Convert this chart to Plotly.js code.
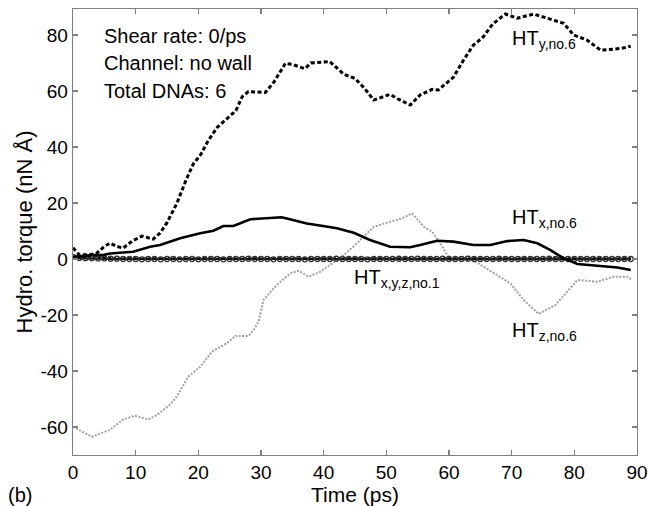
<!DOCTYPE html>
<html>
<head>
<meta charset="utf-8">
<script src="https://cdn.plot.ly/plotly-3.0.1.min.js"></script>
<style>html,body{margin:0;padding:0;background:#fff;}#chart{width:648px;height:506px;}</style>
</head>
<body>
<div id="chart"></div>
<script>
// HT_y,no.6 (thick black dotted)
const tY = [0, 1, 2.5, 3.8, 5, 5.9, 7, 8, 9.5, 11, 12.8, 13.9, 15, 16.6, 18, 19.2, 20.3, 21.5, 23, 24.5, 26, 27, 28, 30.7, 32, 33.9, 35, 37, 38, 41, 43.2, 45, 46.5, 48, 49.5, 50.6, 52, 53.8, 55.4, 57.3, 58.3, 60.7, 62.3, 63.9, 65.5, 67, 69, 70.9, 73.5, 76.7, 78.3, 79.9, 82, 84.2, 87.4, 89];
const htY6 = [4, 1.5, 1.5, 2.1, 4.5, 5.7, 4.5, 3.9, 6.5, 8.2, 7.1, 9.3, 13, 20, 28, 34, 37, 42, 47, 50, 53, 58, 59.8, 59.5, 63, 69.9, 69.5, 68, 70, 70.5, 66, 64.5, 61, 56.8, 58, 58.8, 57, 55, 58.6, 60.6, 60.4, 64.9, 71, 76.4, 79.4, 84, 87.5, 86, 87.5, 85.4, 84.2, 80, 78.2, 74.6, 75.2, 76];

// HT_x,no.6 (solid black)
const tX = [0, 3.2, 4.8, 5.9, 9.6, 12.3, 13.9, 17.1, 20.3, 22.4, 24, 25.6, 28.3, 29.9, 33.3, 35.1, 37.3, 39.9, 42.1, 44.8, 47.4, 50.6, 53.8, 55.4, 58.1, 60.7, 63.9, 66.6, 69.3, 71.9, 74.1, 76.2, 78.3, 80.5, 83.7, 86.9, 89];
const htX6 = [0.8, 1.4, 1.4, 2, 2.6, 4.4, 5, 7.4, 9.2, 10.1, 11.8, 11.8, 14.2, 14.5, 14.9, 13.9, 12.7, 11.8, 11, 9.4, 6.8, 4.4, 4.2, 5, 6.5, 6.2, 5, 5, 6.4, 6.8, 5.6, 3.2, 0.2, -1.8, -2.5, -3, -3.9];

// HT_z,no.6 (grey dotted)
const tZ = [0, 3, 5.9, 8, 9.9, 12, 13.4, 15.5, 16.6, 18.4, 20.3, 22.2, 24.6, 25.9, 28, 28.8, 29.6, 30.4, 32.5, 34.7, 36, 37.6, 39.5, 41.3, 43.2, 45.3, 48, 50.6, 52.5, 54.1, 56, 57.3, 58.6, 60.2, 62.9, 65.5, 69.8, 71.9, 74.3, 77, 78.9, 80.5, 83.7, 86.3, 88.5, 89];
const htZ6 = [-59.9, -63.5, -61, -57.3, -56, -57.3, -55.7, -52, -49, -42, -38.5, -33, -30, -27.5, -27.5, -25.4, -22.4, -14.6, -9.3, -5.1, -4.2, -6.3, -4.5, -1.5, 1.4, 5.6, 11.5, 13.3, 14.5, 16.3, 11.5, 9.8, 5.6, -0.4, 0.8, -2.7, -8.7, -14.6, -19.6, -16.4, -11.7, -7.5, -8.1, -6.3, -6.3, -7.2];

// HT_x,y,z,no.1 (near zero)
const t1 = [0,1,2,3,4,5,6,7,8,9,10,11,12,13,14,15,16,17,18,19,20,21,22,23,24,25,26,27,28,29,30,31,32,33,34,35,36,37,38,39,40,41,42,43,44,45,46,47,48,49,50,51,52,53,54,55,56,57,58,59,60,61,62,63,64,65,66,67,68,69,70,71,72,73,74,75,76,77,78,79,80,81,82,83,84,85,86,87,88,89];
const htX1 = [0.8,0.4,0.3,0.3,0.2,0.2,0.1,0.1,0,0,0,-0.1,0,0,-0.1,0,0,-0.1,0,0,-0.1,0,0,0,-0.1,0,0,0,0.1,0,0,0,-0.1,0,0,0,0,-0.1,0,0,0,0,0.1,0,0,0,0,-0.1,0,0,0,0,0.1,0,0,0.1,0,0,0,0.1,0,0,0,0.1,0,0,0,0,0.1,0,0,0,0,0,0,0,0.1,0,0,0,0,0,0,0,0,0,0,0,0,0];
const htY1 = [0.5,0.6,0.5,0.5,0.4,0.3,0.3,0.2,0.2,0.2,0.2,0.2,0.2,0.2,0.1,0.1,0.2,0.2,0.2,0.2,0.1,0.1,0.1,0.1,0.1,0.2,0.2,0.2,0.2,0.2,0.2,0.2,0.1,0.1,0.1,0.2,0.2,0.2,0.2,0.2,0.2,0.2,0.2,0.2,0.2,0.2,0.2,0.2,0.2,0.2,0.2,0.2,0.2,0.3,0.3,0.2,0.2,0.2,0.2,0.2,0.2,0.2,0.2,0.2,0.2,0.2,0.2,0.2,0.2,0.2,0.2,0.2,0.2,0.2,0.2,0.2,0.2,0.2,0.2,0.2,0.2,0.2,0.2,0.2,0.2,0.2,0.2,0.2,0.2,0.2];
const htZ1 = [0.3,0.3,0.2,0.2,0.1,0.1,0,0,0,0,-0.1,-0.1,-0.1,-0.1,-0.1,-0.1,-0.1,-0.1,-0.1,-0.1,-0.1,-0.1,-0.1,-0.1,-0.1,-0.1,-0.1,-0.1,-0.1,-0.1,-0.1,-0.1,-0.1,-0.1,-0.1,-0.1,-0.1,-0.1,-0.1,-0.1,-0.1,-0.1,-0.1,-0.1,-0.1,-0.1,-0.1,-0.1,-0.1,-0.1,-0.1,-0.1,-0.1,-0.1,-0.1,-0.1,-0.1,-0.1,-0.1,-0.1,-0.1,-0.1,-0.1,-0.1,-0.1,-0.1,-0.1,-0.1,-0.1,-0.1,-0.1,-0.1,-0.1,-0.1,-0.1,-0.1,-0.1,-0.1,-0.1,-0.1,-0.1,-0.1,-0.1,-0.1,-0.1,-0.1,-0.1,-0.1,-0.1,-0.1];

const xTicks = [0, 10, 20, 30, 40, 50, 60, 70, 80, 90];
const yTicks = [-60, -40, -20, 0, 20, 40, 60, 80];

const FONT = 'Liberation Sans, Arial, sans-serif';

const traces = [
  {x: tZ, y: htZ6, mode: 'lines', line: {color: '#a0a0a0', width: 2, dash: '2px,1.5px'}},
  {x: t1, y: htZ1, mode: 'lines', line: {color: '#000', width: 2}},
  {x: t1, y: htY1, mode: 'lines', line: {color: '#000', width: 2.5, dash: '3px,2px'}},
  {x: t1, y: htX1, mode: 'lines+markers', line: {color: '#111', width: 1.5},
   marker: {symbol: 'circle-open', size: 5, color: '#333', line: {width: 1.3, color: '#333'}}},
  {x: tX, y: htX6, mode: 'lines', line: {color: '#000', width: 2.6}},
  {x: tY, y: htY6, mode: 'lines', line: {color: '#000', width: 3, dash: '4px,2.5px'}}
];

const axisCommon = {
  showline: true, linecolor: '#808080', linewidth: 1.3, mirror: 'ticks',
  ticks: 'inside', ticklen: 5, tickcolor: '#808080', tickwidth: 1.3,
  showgrid: false, zeroline: false,
  tickfont: {family: FONT, size: 19, color: '#000'}
};

const layout = {
  width: 648, height: 506,
  margin: {l: 73, r: 11, t: 9, b: 51},
  paper_bgcolor: '#fff', plot_bgcolor: '#fff',
  showlegend: false,
  xaxis: Object.assign({}, axisCommon, {
    range: [0, 90], tickvals: xTicks, ticktext: xTicks.map(String),
    title: {text: 'Time (ps)', font: {family: FONT, size: 21, color: '#000'}, standoff: 4}
  }),
  yaxis: Object.assign({}, axisCommon, {
    range: [-70, 89.3], tickvals: yTicks, ticktext: yTicks.map(String),
    title: {text: 'Hydro. torque (nN Å)', font: {family: FONT, size: 22, color: '#000'}, standoff: 1}
  }),
  annotations: [
    {xref: 'paper', yref: 'paper', x: 0.052, y: 0.94, xanchor: 'left', yanchor: 'middle', showarrow: false,
     text: 'Shear rate: 0/ps', font: {family: FONT, size: 20, color: '#000'}},
    {xref: 'paper', yref: 'paper', x: 0.052, y: 0.878, xanchor: 'left', yanchor: 'middle', showarrow: false,
     text: 'Channel: no wall', font: {family: FONT, size: 20, color: '#000'}},
    {xref: 'paper', yref: 'paper', x: 0.052, y: 0.816, xanchor: 'left', yanchor: 'middle', showarrow: false,
     text: 'Total DNAs: 6', font: {family: FONT, size: 20, color: '#000'}},
    {xref: 'x', yref: 'y', x: 69.7, y: 78.5, xanchor: 'left', yanchor: 'middle', showarrow: false,
     text: 'HT<sub>y,no.6</sub>', font: {family: FONT, size: 20, color: '#000'}},
    {xref: 'x', yref: 'y', x: 69.7, y: 14.5, xanchor: 'left', yanchor: 'middle', showarrow: false,
     text: 'HT<sub>x,no.6</sub>', font: {family: FONT, size: 20, color: '#000'}},
    {xref: 'x', yref: 'y', x: 44.6, y: -7, xanchor: 'left', yanchor: 'middle', showarrow: false,
     text: 'HT<sub>x,y,z,no.1</sub>', font: {family: FONT, size: 20, color: '#000'}},
    {xref: 'x', yref: 'y', x: 69.7, y: -25.8, xanchor: 'left', yanchor: 'middle', showarrow: false,
     text: 'HT<sub>z,no.6</sub>', font: {family: FONT, size: 20, color: '#000'}},
    {xref: 'paper', yref: 'paper', x: -0.118, y: -0.09, xanchor: 'left', yanchor: 'middle', showarrow: false,
     text: '(b)', font: {family: FONT, size: 20, color: '#000'}}
  ]
};

Plotly.newPlot('chart', traces, layout, {displayModeBar: false, staticPlot: true});
</script>
</body>
</html>
